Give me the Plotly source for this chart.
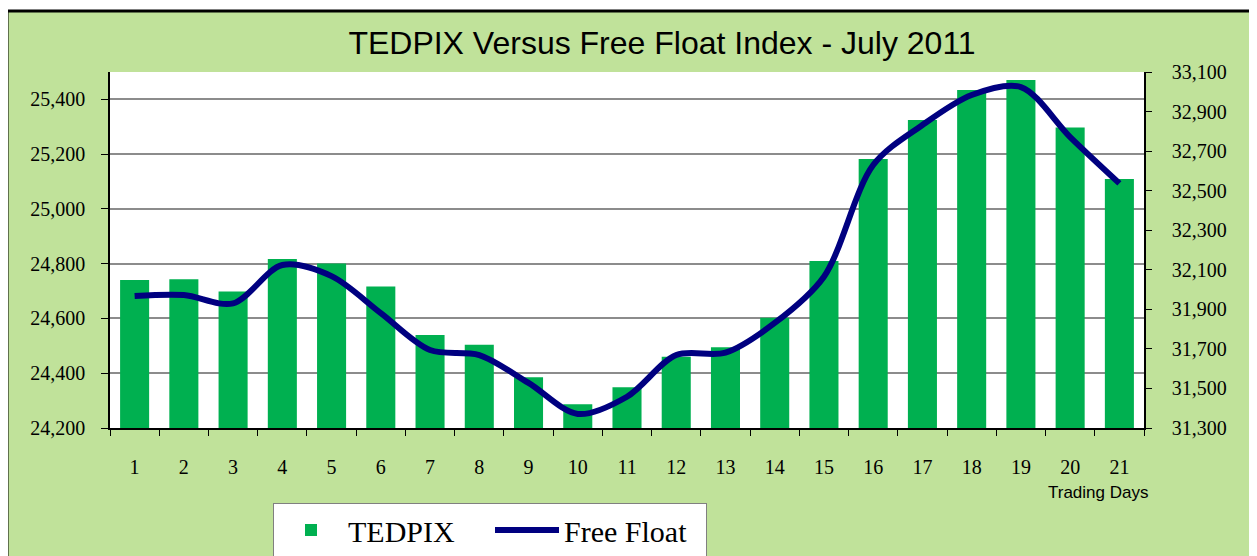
import plotly.graph_objects as go

days = [str(i) for i in range(1, 22)]
tedpix = [24740, 24743, 24698, 24817, 24801, 24717, 24540, 24504, 24385, 24287, 24349,
          24460, 24495, 24603, 24810, 25182, 25325, 25434, 25471, 25297, 25109]
free_float = [31967, 31972, 31930, 32124, 32068, 31881, 31694, 31669, 31528, 31371, 31458,
              31669, 31681, 31831, 32065, 32630, 32832, 32984, 33024, 32771, 32537]
left_ticks = [24200, 24400, 24600, 24800, 25000, 25200, 25400]
right_ticks = [31300, 31500, 31700, 31900, 32100, 32300, 32500, 32700, 32900, 33100]

# page body has an 8px margin: figure coordinates = screen coordinates - 8
OFF = 8
W, H = 1257, 556
L, T = 110 - OFF, 72 - OFF
PR, PB = 1144 - OFF, 428 - OFF
R, B = W - PR, H - PB
pw, ph = PR - L, PB - T


def px(x):
    return (x - OFF - L) / pw


def py(y):
    return (PB - (y - OFF)) / ph


fig = go.Figure()
fig.add_trace(go.Bar(x=days, y=tedpix, name="TEDPIX", marker_color="#00B050",
                     marker_line_width=0, yaxis="y"))
fig.add_trace(go.Scatter(x=days, y=free_float, name="Free Float", mode="lines",
                         line=dict(color="#000080", width=6, shape="spline", smoothing=0.9),
                         yaxis="y2"))

serif = "Liberation Serif, Times New Roman, serif"
sans = "Liberation Sans, Arial, sans-serif"

fig.update_layout(
    width=W, height=H,
    margin=dict(l=L, r=R, t=T, b=B),
    paper_bgcolor="white",
    plot_bgcolor="white",
    bargap=0.41,
    showlegend=True,
    title=dict(text="TEDPIX Versus Free Float Index - July 2011", x=(662 - OFF) / W,
               xanchor="center", y=1 - (43 - OFF) / H, yanchor="middle",
               font=dict(family=sans, size=32, color="black")),
    xaxis=dict(type="category", showline=True, linecolor="black", linewidth=1.5,
               ticks="outside", ticklen=6, tickcolor="black", tickson="boundaries",
               tickfont=dict(family=serif, size=20, color="black"), ticklabelstandoff=20,
               showgrid=False),
    yaxis=dict(range=[24200, 25500], tickvals=left_ticks, tickformat=",d",
               showline=True, linecolor="black", linewidth=1.5, ticks="outside", ticklen=7,
               tickcolor="black", showgrid=True, gridcolor="#8c8c8c", gridwidth=2,
               tickfont=dict(family=serif, size=20, color="black"), ticklabelstandoff=12,
               zeroline=False),
    yaxis2=dict(range=[31300, 33100], tickvals=right_ticks, tickformat=",d", overlaying="y",
                side="right", showline=True, linecolor="black", linewidth=1.5,
                ticks="outside", ticklen=6, tickcolor="black", showgrid=False,
                tickfont=dict(family=serif, size=20, color="black"), ticklabelstandoff=16,
                zeroline=False),
    legend=dict(orientation="h", xref="container", yref="container",
                x=(273 - OFF) / W, y=1 - (503 - OFF) / H, xanchor="left", yanchor="top",
                bgcolor="white", bordercolor="#808080", borderwidth=1,
                font=dict(family=serif, size=30, color="black"), itemwidth=64,
                entrywidth=137, traceorder="normal"),
    shapes=[
        dict(type="rect", xref="paper", yref="paper", x0=px(7), x1=px(1255), y0=py(11),
             y1=py(575), fillcolor="#C0E29A", line=dict(color="black", width=3), layer="below"),
        dict(type="rect", xref="paper", yref="paper", x0=0, x1=1, y0=0, y1=1,
             fillcolor="white", line=dict(width=0), layer="below"),
    ],
    annotations=[
        dict(text="Trading Days", xref="paper", yref="paper", x=px(1150), y=py(492),
             xanchor="right", yanchor="middle", showarrow=False,
             font=dict(family=sans, size=17, color="black")),
    ],
)

fig.write_html("out.html")
